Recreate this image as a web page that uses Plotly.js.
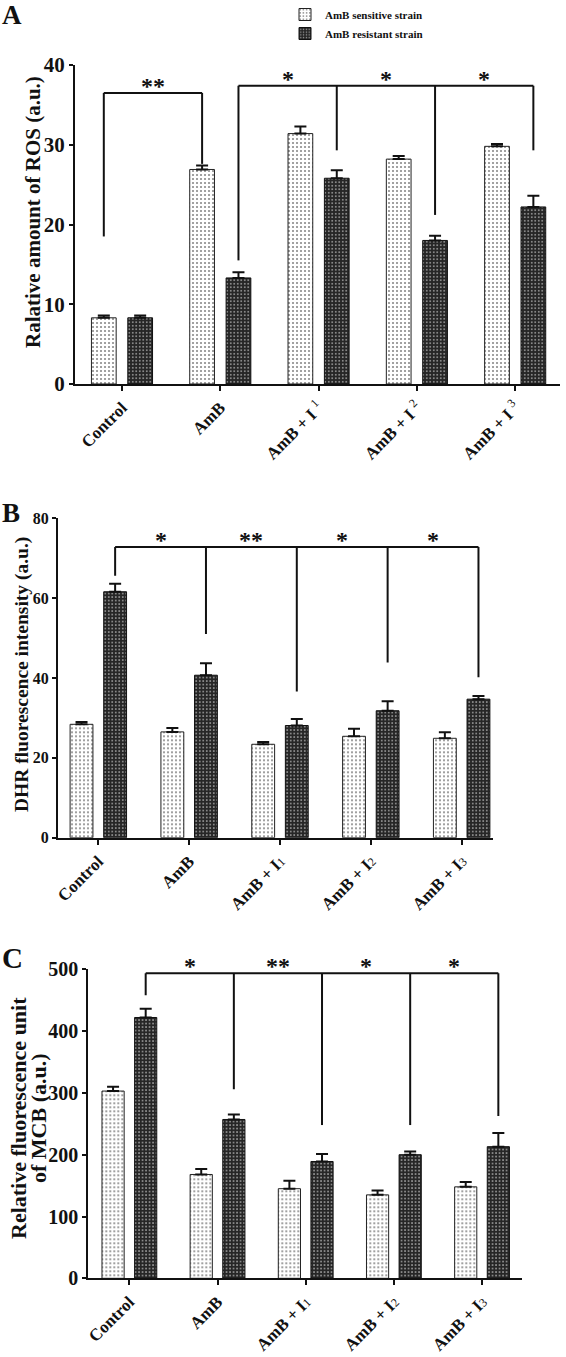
<!DOCTYPE html>
<html><head><meta charset="utf-8">
<script src="https://cdn.plot.ly/plotly-3.0.1.min.js"></script>
<style>html,body{margin:0;padding:0;background:#fff}</style>
</head><body><div id="chart" style="width:566px;height:1357px"></div>
<script>
// ---------- data ----------
const categories = ['Control', 'AmB', 'AmB + I1', 'AmB + I2', 'AmB + I3'];
const seriesNames = ['AmB sensitive strain', 'AmB resistant strain'];
const tickLabelsA = ['Control', 'AmB',
  'AmB + I <sup><span style="font-weight:normal">1</span></sup>',
  'AmB + I <sup><span style="font-weight:normal">2</span></sup>',
  'AmB + I <sup><span style="font-weight:normal">3</span></sup>'];
const tickLabelsBC = ['Control', 'AmB',
  'AmB + I<span style="font-weight:normal;font-size:12px">1</span>',
  'AmB + I<span style="font-weight:normal;font-size:12px">2</span>',
  'AmB + I<span style="font-weight:normal;font-size:12px">3</span>'];

const rosSensitive    = [8.3, 26.9, 31.4, 28.2, 29.8];
const rosSensitiveErr = [0.3, 0.5, 0.9, 0.4, 0.3];
const rosResistant    = [8.3, 13.3, 25.8, 18.0, 22.2];
const rosResistantErr = [0.3, 0.7, 1.0, 0.6, 1.4];

const dhrSensitive    = [28.4, 26.5, 23.4, 25.4, 24.9];
const dhrSensitiveErr = [0.6, 1.0, 0.6, 1.9, 1.5];
const dhrResistant    = [61.6, 40.7, 28.1, 31.8, 34.7];
const dhrResistantErr = [2.0, 3.0, 1.6, 2.4, 0.8];

const mcbSensitive    = [303, 168, 145, 135, 148];
const mcbSensitiveErr = [7, 9, 13, 7, 8];
const mcbResistant    = [422, 257, 189, 200, 213];
const mcbResistantErr = [14, 8, 12, 5, 22];

// significance brackets: series index, groups joined, bracket level, leg ends, labels
const sigA1Series = 0, sigA1Groups = [0, 1], sigA1Top = 36.5, sigA1Ends = [18.5, 27.6], sigA1Labels = ['**'];
const sigA2Series = 1, sigA2Groups = [1, 2, 3, 4], sigA2Top = 37.4, sigA2Ends = [15.5, 29.3, 21.2, 29.3], sigA2Labels = ['*', '*', '*'];
const sigBSeries = 1, sigBGroups = [0, 1, 2, 3, 4], sigBTop = 72.8, sigBEnds = [65.6, 51.0, 36.6, 43.9, 40.2], sigBLabels = ['*', '**', '*', '*'];
const sigCSeries = 1, sigCGroups = [0, 1, 2, 3, 4], sigCTop = 493.5, sigCEnds = [458, 306, 248, 248, 262.6], sigCLabels = ['*', '**', '*', '*'];

// ---------- styling ----------
const FONT = 'Liberation Serif, Times New Roman, serif';
const INK = '#111111';
const BARGAP = 0.26, BARGROUPGAP = 0.32;
const OFFSET = (1 - BARGAP) / 4;
const idx = categories.map((_, i) => i);

function barPair(sens, sensErr, res, resErr, xa, ya, showlegend) {
  const err = (arr) => ({type: 'data', array: arr, arrayminus: arr.map(() => 0), symmetric: false,
                         color: INK, thickness: 2, width: 6});
  return [
    {type: 'bar', name: seriesNames[0], legendgroup: 's', x: idx, y: sens, xaxis: xa, yaxis: ya, showlegend,
     marker: {color: '#ffffff', line: {color: '#222', width: 1},
              pattern: {shape: '.', fgcolor: '#8a8a8a', bgcolor: '#ffffff', size: 4, solidity: 0.22}},
     error_y: err(sensErr), hoverinfo: 'y'},
    {type: 'bar', name: seriesNames[1], legendgroup: 'r', x: idx, y: res, xaxis: xa, yaxis: ya, showlegend,
     marker: {color: '#222222', line: {color: '#111', width: 1},
              pattern: {shape: '.', fgcolor: '#a8a8a8', bgcolor: '#262626', size: 3.5, solidity: 0.2}},
     error_y: err(resErr), hoverinfo: 'y'}
  ];
}

const shapes = [], annotations = [];
function bracket(series, groups, top, ends, labels, xref, yref) {
  const xs = groups.map(g => g + (series === 0 ? -OFFSET : OFFSET));
  const line = {color: INK, width: 2};
  shapes.push({type: 'line', xref, yref, x0: xs[0], x1: xs[xs.length - 1], y0: top, y1: top, line});
  xs.forEach((x, i) => shapes.push({type: 'line', xref, yref, x0: x, x1: x, y0: top, y1: ends[i], line}));
  labels.forEach((t, i) => annotations.push({xref, yref, x: (xs[i] + xs[i + 1]) / 2, y: top, text: t,
    showarrow: false, yanchor: 'bottom', yshift: -8, font: {family: FONT, size: 24, weight: 'bold', color: INK}}));
}
bracket(sigA1Series, sigA1Groups, sigA1Top, sigA1Ends, sigA1Labels, 'x', 'y');
bracket(sigA2Series, sigA2Groups, sigA2Top, sigA2Ends, sigA2Labels, 'x', 'y');
bracket(sigBSeries, sigBGroups, sigBTop, sigBEnds, sigBLabels, 'x2', 'y2');
bracket(sigCSeries, sigCGroups, sigCTop, sigCEnds, sigCLabels, 'x3', 'y3');

function panelLabel(t, x, y, size) {
  annotations.push({xref: 'paper', yref: 'paper', x, y, text: t, showarrow: false, xanchor: 'left', yanchor: 'middle',
    font: {family: FONT, size, weight: 'bold', color: INK}});
}
panelLabel('A', 0.0, 1 - 15 / 1357, 27);
panelLabel('B', 0.0, 1 - 513 / 1357, 27);
panelLabel('C', 0.0, 1 - 958 / 1357, 29);

function yTitle(t, xpx, ypx, size) {
  annotations.push({xref: 'paper', yref: 'paper', x: xpx / 566, y: 1 - ypx / 1357, text: t, showarrow: false,
    textangle: -90, xanchor: 'center', yanchor: 'middle', font: {family: FONT, size, weight: 'bold', color: INK}});
}
yTitle('Ralative amount of ROS (a.u.)', 33, 212, 21);
yTitle('DHR fluorescence intensity (a.u.)', 22, 675, 19.5);
yTitle('Relative fluorescence unit', 18, 1118, 22);
yTitle('of MCB (a.u.)', 38, 1118, 22);

function xAxis(domain, range, anchor, labels) {
  return {domain, range, anchor, tickmode: 'array', tickvals: idx, ticktext: labels, tickangle: -45,
    showline: true, linewidth: 2, linecolor: INK, ticks: 'outside', ticklen: 5, tickwidth: 2, tickcolor: INK,
    showgrid: false, zeroline: false, automargin: false, fixedrange: true,
    tickfont: {family: FONT, size: 17, weight: 'bold', color: INK}};
}
function yAxis(domain, range, dtick, anchor, fsize) {
  return {domain, range, dtick, anchor, showline: true, linewidth: 2, linecolor: INK, ticks: 'outside',
    ticklen: 4, tickwidth: 2, tickcolor: INK, showgrid: false, zeroline: false, automargin: false, fixedrange: true,
    tickfont: {family: FONT, size: fsize, weight: 'bold', color: INK}};
}

const data = [
  ...barPair(rosSensitive, rosSensitiveErr, rosResistant, rosResistantErr, 'x', 'y', true),
  ...barPair(dhrSensitive, dhrSensitiveErr, dhrResistant, dhrResistantErr, 'x2', 'y2', false),
  ...barPair(mcbSensitive, mcbSensitiveErr, mcbResistant, mcbResistantErr, 'x3', 'y3', false)
];

const layout = {
  width: 566, height: 1357, margin: {l: 0, r: 0, t: 0, b: 0},
  paper_bgcolor: '#ffffff', plot_bgcolor: '#ffffff',
  barmode: 'group', bargap: BARGAP, bargroupgap: BARGROUPGAP,
  font: {family: FONT, color: INK},
  xaxis:  xAxis([75 / 566, 560 / 566], [-0.478, 4.456], 'y', tickLabelsA),
  yaxis:  yAxis([1 - 384 / 1357, 1 - 65 / 1357], [0, 40], 10, 'x', 21),
  xaxis2: xAxis([58 / 566, 493 / 566], [-0.444, 4.345], 'y2', tickLabelsBC),
  yaxis2: yAxis([1 - 837.7 / 1357, 1 - 518.3 / 1357], [0, 80], 20, 'x2', 16),
  xaxis3: xAxis([88.3 / 566, 521.7 / 566], [-0.466, 4.45], 'y3', tickLabelsBC),
  yaxis3: yAxis([1 - 1278.3 / 1357, 1 - 969.3 / 1357], [0, 500], 100, 'x3', 20),
  showlegend: true,
  legend: {x: 285 / 566, y: 1, xanchor: 'left', yanchor: 'top', bgcolor: 'rgba(0,0,0,0)', tracegroupgap: 0,
    font: {family: FONT, size: 11, weight: 'bold', color: INK}},
  shapes, annotations
};

Plotly.newPlot('chart', data, layout, {displayModeBar: false, staticPlot: true});
</script></body></html>
